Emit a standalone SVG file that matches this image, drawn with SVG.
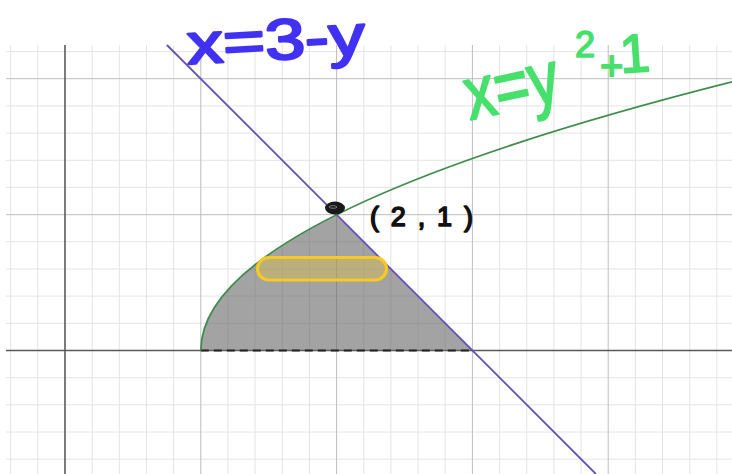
<svg xmlns="http://www.w3.org/2000/svg" width="732" height="474" viewBox="0 0 732 474">
<style>
.minor{stroke:#e4e4e4;stroke-width:1}
.major{stroke:#bdbdbd;stroke-width:1}
.axis{stroke:#5a5a5a;stroke-width:1.6}
.hand{font-family:"Liberation Sans","DejaVu Sans",sans-serif;stroke-linejoin:round;stroke-linecap:round}
</style>
<rect width="732" height="474" fill="#ffffff"/>
<g id="grid">
<g class="minor">
<path d="M10.7,45V474M37.8,45V474M92.2,45V474M119.3,45V474M146.5,45V474M173.6,45V474M227.9,45V474M255.1,45V474M282.3,45V474M309.4,45V474M363.8,45V474M390.9,45V474M418.1,45V474M445.2,45V474M499.6,45V474M526.7,45V474M553.9,45V474M581,45V474M635.4,45V474M662.5,45V474M689.7,45V474M716.8,45V474"/>
<path d="M6,51.7H732M6,105.9H732M6,133.1H732M6,160.3H732M6,187.4H732M6,241.8H732M6,269H732M6,296.1H732M6,323.3H732M6,377.7H732M6,404.8H732M6,432H732M6,459.1H732"/>
</g>
<g class="major">
<path d="M200.8,45V474M336.6,45V474M472.4,45V474M608.2,45V474"/>
<path d="M6,78.7H732M6,214.7H732"/>
</g>
<g class="axis">
<path d="M65,45V474"/>
<path d="M6,350.5H732"/>
</g>
</g>
<g id="region">
<path d="M200.8,350.5Q200.8,282.6 336.6,214.7L472.4,350.5Z" fill="#666666" fill-opacity="0.6"/>
<path d="M200.8,350.5H472.4" stroke="#222" stroke-width="2" stroke-dasharray="8,5" fill="none"/>
</g>
<g id="curves" fill="none">
<path id="line" d="M166.9,45L595.9,474" stroke="#6650b8" stroke-width="1.8"/>
<path id="parabola" d="M200.8,350.5Q200.8,216.2 732,81.9" stroke="#3f8d4c" stroke-width="1.8"/>
</g>
<g id="strip">
<rect x="257.5" y="257.5" width="129" height="22.5" rx="11.2" fill="#f5cc2a" fill-opacity="0.3" stroke="#f7c925" stroke-width="3.2"/>
</g>
<g id="point">
<ellipse cx="335" cy="208" rx="10" ry="6.5" fill="#1a1a1a"/>
<ellipse cx="333" cy="207" rx="4" ry="1.3" fill="none" stroke="#8a8a8a" stroke-width="0.8"/>
</g>
<g id="label-point">
<text class="hand" x="370" y="226" font-size="27" textLength="103" lengthAdjust="spacing" fill="#111" stroke="#111" stroke-width="1.6">(2,1)</text>
</g>
<g id="label-line">
<text class="hand" x="188" y="64" font-size="57" textLength="178" lengthAdjust="spacingAndGlyphs" fill="#4131f2" stroke="#4131f2" stroke-width="2.4" transform="rotate(-3 188 64)">x=3-y</text>
</g>
<g id="label-parabola" fill="#48e06c" stroke="#48e06c">
<text class="hand" x="470" y="120" font-size="74" textLength="95" lengthAdjust="spacingAndGlyphs" stroke-width="2" transform="rotate(-12 470 120)">x=y</text>
<text class="hand" x="575" y="57" font-size="36" stroke-width="1.6">2</text>
<text class="hand" x="600" y="80" font-size="40" stroke-width="1.8">+</text>
<text class="hand" x="621" y="73" font-size="54" stroke-width="1.8" transform="rotate(-4 621 73)">1</text>
</g>
</svg>
